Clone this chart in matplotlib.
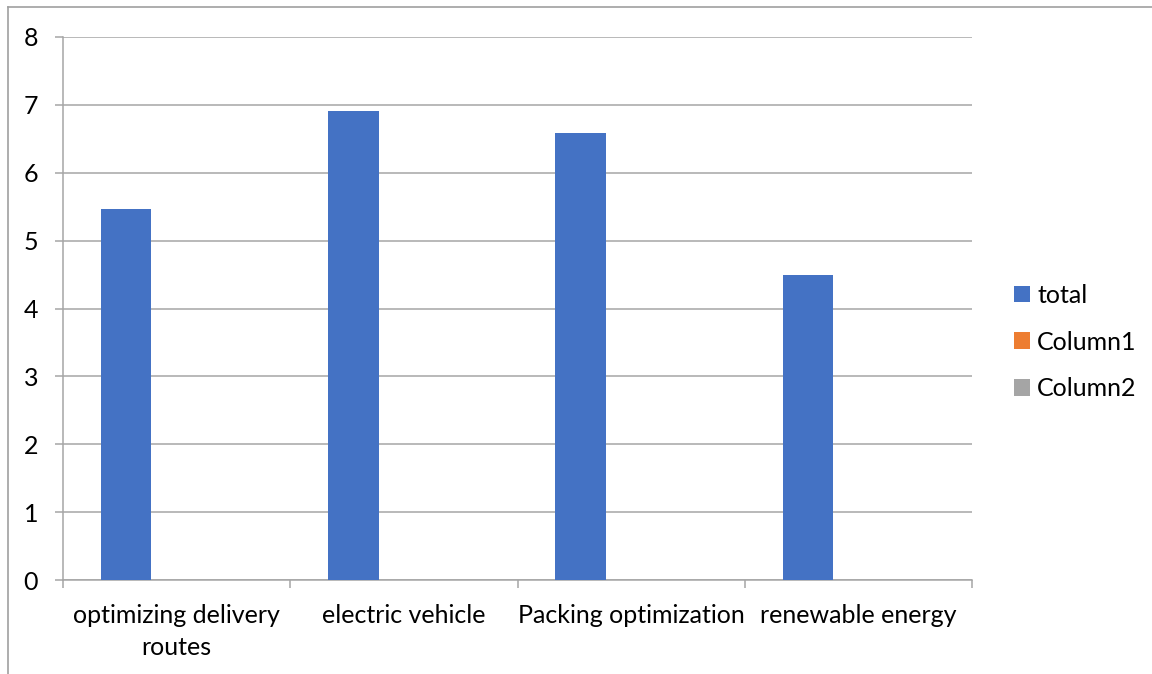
import matplotlib
matplotlib.use("Agg")
import matplotlib.pyplot as plt
from matplotlib.lines import Line2D
from matplotlib.patches import Patch
import numpy as np

plt.rcParams['font.family'] = ['Lato', 'DejaVu Sans']

categories = ["optimizing delivery\nroutes", "electric vehicle",
              "Packing optimization", "renewable energy"]
series_names = ["total", "Column1", "Column2"]
total = [5.47, 6.91, 6.59, 4.50]
column1 = [0, 0, 0, 0]
column2 = [0, 0, 0, 0]
colors = ["#4472C4", "#ED7D31", "#A5A5A5"]

W, H = 1152, 674
fig = plt.figure(figsize=(W / 100, H / 100), dpi=100)
ax = fig.add_axes([63 / W, 1 - 580 / H, (972 - 63) / W, (580 - 37) / H])

n = len(series_names)
bw = 1 / (n + 1.5)
x = np.arange(len(categories))
for i, (vals, c) in enumerate(zip([total, column1, column2], colors)):
    offs = (i - (n - 1) / 2) * bw
    heights = [v if v > 0 else 0 for v in vals]
    ax.bar(x + offs, heights, width=bw, color=c, zorder=3)

ax.set_xlim(-0.5, len(categories) - 0.5)
ax.set_ylim(0, 8)
ax.set_yticks(range(0, 9))
ax.yaxis.grid(True, color="#a6a6a6", linewidth=1.1, zorder=0)
ax.set_axisbelow(True)

grid_c = "#a6a6a6"
for s in ["top", "right"]:
    ax.spines[s].set_visible(False)
ax.spines["left"].set_color(grid_c)
ax.spines["bottom"].set_color(grid_c)
ax.spines["left"].set_linewidth(1.1)
ax.spines["bottom"].set_linewidth(1.1)

ax.tick_params(axis="y", length=6, color=grid_c, width=1.1, labelsize=18, pad=12)
ax.set_xticks(x)
ax.set_xticklabels(categories, fontsize=18, linespacing=1.48)
ax.tick_params(axis="x", which="major", length=0, pad=17.5)
ax.set_xticks(np.arange(-0.5, len(categories)), minor=True)
ax.tick_params(axis="x", which="minor", length=6, color=grid_c, width=1.1)

handles = [Patch(facecolor=c, edgecolor="none") for c in colors]
fig.legend(handles, series_names, loc="center left",
           bbox_to_anchor=(996 / W, 1 - 342 / H), frameon=False,
           fontsize=18, handlelength=0.65, handleheight=0.65,
           handletextpad=0.3, labelspacing=0.95, borderpad=0.2)

# outer chart frame
fig.add_artist(Line2D([8 / W, 1], [1 - 7 / H, 1 - 7 / H], color="#a0a0a0", lw=1.2))
fig.add_artist(Line2D([8 / W, 8 / W], [0, 1 - 7 / H], color="#a0a0a0", lw=1.2))

fig.savefig("out.png", dpi=100)
